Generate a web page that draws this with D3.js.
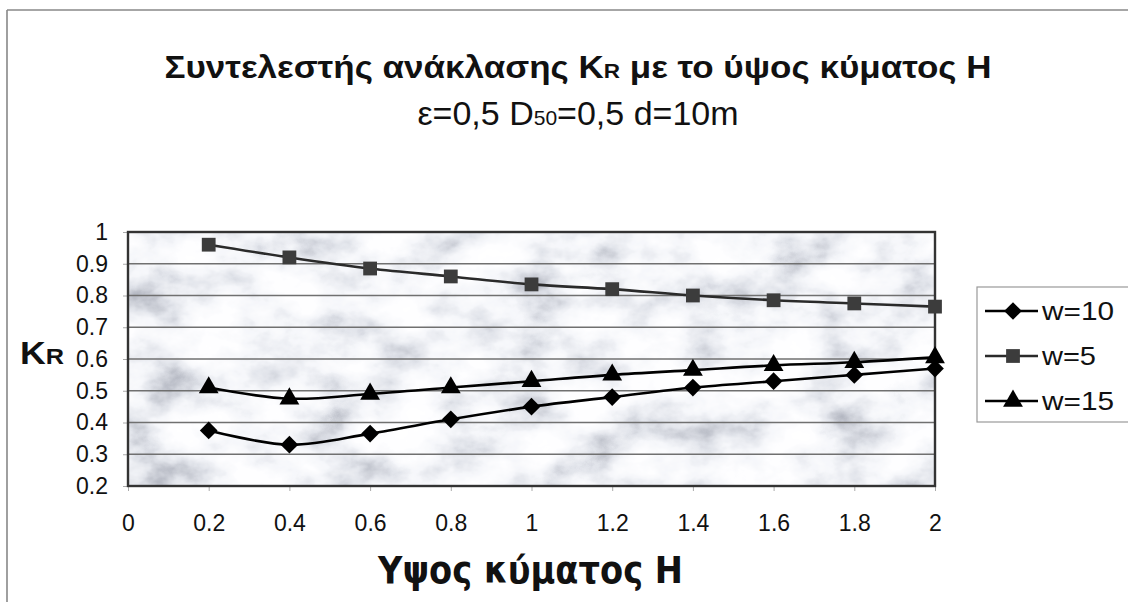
<!DOCTYPE html>
<html lang="el">
<head>
<meta charset="utf-8">
<title>Συντελεστής ανάκλασης</title>
<script src="https://d3js.org/d3.v7.min.js"></script>
<style>
  body, html { margin: 0; padding: 0; background: #fff; }
  svg { display: block; font-family: "Liberation Sans", Arial, sans-serif; }
</style>
</head>
<body>
<script>
// data
const xValues = [0.2, 0.4, 0.6, 0.8, 1.0, 1.2, 1.4, 1.6, 1.8, 2.0];
const w10 = [0.375, 0.33, 0.365, 0.41, 0.45, 0.48, 0.51, 0.53, 0.55, 0.57];
const w5  = [0.96, 0.92, 0.885, 0.86, 0.835, 0.82, 0.80, 0.785, 0.775, 0.765];
const w15 = [0.51, 0.475, 0.49, 0.51, 0.53, 0.55, 0.565, 0.58, 0.59, 0.605];
const seriesNames = ["w=10", "w=5", "w=15"];
const xTicks = [0, 0.2, 0.4, 0.6, 0.8, 1, 1.2, 1.4, 1.6, 1.8, 2];
const yTicks = [0.2, 0.3, 0.4, 0.5, 0.6, 0.7, 0.8, 0.9, 1];

const W = 1128, H = 602;
const plot = {left: 128, right: 935, top: 232, bottom: 486};

const svg = d3.select("body").append("svg")
  .attr("width", W).attr("height", H);

// marble-ish background texture
const defs = svg.append("defs");
const f = defs.append("filter").attr("id", "marble")
  .attr("x", 0).attr("y", 0).attr("width", 1).attr("height", 1);
f.append("feTurbulence").attr("type", "fractalNoise")
  .attr("baseFrequency", "0.016 0.022").attr("numOctaves", 5).attr("seed", 11);
f.append("feColorMatrix").attr("type", "matrix")
  .attr("values", "1 0 0 0 0  1 0 0 0 0  1 0 0 0 0  0 0 0 0 1");
f.append("feComponentTransfer").call(c => {
  c.append("feFuncR").attr("type", "table").attr("tableValues", "0.32 0.52 0.76 0.92 0.99 1 1");
  c.append("feFuncG").attr("type", "table").attr("tableValues", "0.34 0.54 0.78 0.93 0.99 1 1");
  c.append("feFuncB").attr("type", "table").attr("tableValues", "0.40 0.60 0.83 0.96 1 1 1");
});

// chart frame (partially cropped in the original)
svg.append("line").attr("x1", 7).attr("x2", W).attr("y1", 10).attr("y2", 10)
  .attr("stroke", "#888").attr("stroke-width", 1.6);
svg.append("line").attr("x1", 7).attr("x2", 7).attr("y1", 10).attr("y2", H)
  .attr("stroke", "#888").attr("stroke-width", 1.6);

const x = d3.scaleLinear().domain([0, 2]).range([plot.left, plot.right]);
const y = d3.scaleLinear().domain([0.2, 1]).range([plot.bottom, plot.top]);

svg.append("rect")
  .attr("x", plot.left).attr("y", plot.top)
  .attr("width", plot.right - plot.left).attr("height", plot.bottom - plot.top)
  .attr("filter", "url(#marble)");

// grid
svg.append("g").selectAll("line").data(yTicks.slice(1, -1)).join("line")
  .attr("x1", plot.left).attr("x2", plot.right)
  .attr("y1", d => y(d)).attr("y2", d => y(d))
  .attr("stroke", "#707070").attr("stroke-width", 1.4);

// axes
const yAxis = svg.append("g").attr("transform", `translate(${plot.left},0)`)
  .call(d3.axisLeft(y).tickValues(yTicks).tickFormat(d3.format("")).tickSize(5).tickPadding(15));
const xAxis = svg.append("g").attr("transform", `translate(0,${plot.bottom})`)
  .call(d3.axisBottom(x).tickValues(xTicks).tickFormat(d3.format("")).tickSize(5).tickPadding(24));
[yAxis, xAxis].forEach(a => {
  a.select(".domain").remove();
  a.selectAll(".tick line").attr("stroke", "#aaa");
  a.selectAll("text").attr("font-size", 23).attr("fill", "#111")
    .attr("font-family", "Liberation Sans, Arial, sans-serif");
});

svg.append("rect")
  .attr("x", plot.left).attr("y", plot.top)
  .attr("width", plot.right - plot.left).attr("height", plot.bottom - plot.top)
  .attr("fill", "none").attr("stroke", "#333").attr("stroke-width", 2.4);

// series
const series = [
  {name: seriesNames[0], values: w10, symbol: d3.symbolDiamond2, size: 200, fill: "#000", stroke: "#000"},
  {name: seriesNames[1], values: w5, symbol: d3.symbolSquare, size: 190, fill: "#3c3c3c", stroke: "#2a2a2a"},
  {name: seriesNames[2], values: w15, symbol: d3.symbolTriangle, size: 170, fill: "#000", stroke: "#000"}
];

const line = d3.line().curve(d3.curveCatmullRom.alpha(0.5))
  .x((d, i) => x(xValues[i])).y(d => y(d));

series.forEach(s => {
  svg.append("path").datum(s.values)
    .attr("d", line).attr("fill", "none")
    .attr("stroke", s.stroke).attr("stroke-width", 2.6);
  svg.append("g").selectAll("path").data(s.values).join("path")
    .attr("transform", (d, i) => `translate(${x(xValues[i])},${y(d)})`)
    .attr("d", d3.symbol().type(s.symbol).size(s.size))
    .attr("fill", s.fill);
});

// titles (slightly stretched horizontally like the scanned original)
const title = svg.append("text").attr("transform", "translate(578,78) scale(1.13,1)")
  .attr("text-anchor", "middle")
  .attr("font-size", 31).attr("font-weight", "bold").attr("fill", "#111");
title.append("tspan").text("Συντελεστής ανάκλασης K");
title.append("tspan").attr("font-size", 20).text("R");
title.append("tspan").text(" με το ύψος κύματος H");

const sub = svg.append("text").attr("x", 578).attr("y", 125)
  .attr("text-anchor", "middle").attr("font-size", 34).attr("fill", "#111");
sub.append("tspan").text("ε=0,5 D");
sub.append("tspan").attr("font-size", 21).text("50");
sub.append("tspan").text("=0,5 d=10m");

const ylab = svg.append("text").attr("transform", "translate(20,364) scale(1.15,1)")
  .attr("font-size", 31).attr("font-weight", "bold").attr("fill", "#111");
ylab.append("tspan").text("K");
ylab.append("tspan").attr("font-size", 22).text("R");

svg.append("text").attr("x", 378).attr("y", 583)
  .attr("font-family", "DejaVu Sans, sans-serif")
  .attr("font-size", 37).attr("font-weight", "bold").attr("fill", "#111")
  .attr("textLength", 305).attr("lengthAdjust", "spacingAndGlyphs")
  .text("Υψος κύματος H");

// legend
const leg = svg.append("g").attr("transform", "translate(977,287)");
leg.append("rect").attr("width", 160).attr("height", 135)
  .attr("fill", "#fff").attr("stroke", "#999").attr("stroke-width", 1.2);
series.forEach((s, i) => {
  const g = leg.append("g").attr("transform", `translate(0,${24 + i * 45})`);
  g.append("line").attr("x1", 8).attr("x2", 61).attr("stroke", s.stroke).attr("stroke-width", 2.6);
  g.append("path").attr("transform", "translate(36,0)")
    .attr("d", d3.symbol().type(s.symbol).size(s.size)).attr("fill", s.fill);
  g.append("text").attr("x", 65).attr("dy", "0.36em")
    .attr("font-size", 25).attr("fill", "#111")
    .attr("textLength", s.name.length * 18).attr("lengthAdjust", "spacingAndGlyphs")
    .text(s.name);
});
</script>
</body>
</html>
